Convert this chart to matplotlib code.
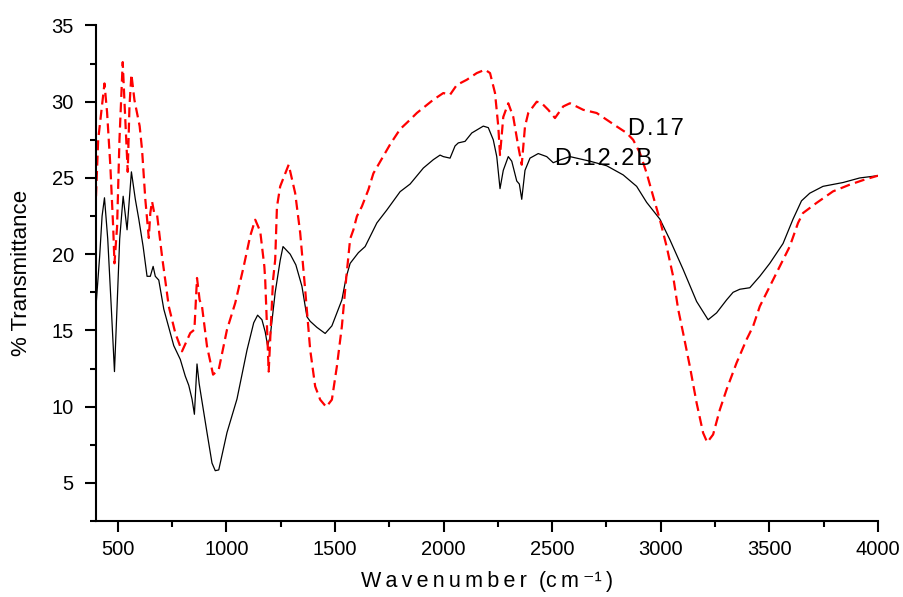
import matplotlib
matplotlib.use("Agg")
import matplotlib.pyplot as plt
from matplotlib.ticker import MultipleLocator

plt.rcParams['font.family'] = ['Liberation Sans', 'DejaVu Sans']

# D.12.2B (black, solid)
wn_b = [400, 417, 428, 439, 454, 470, 485, 497, 509, 525, 543, 563, 581, 597, 617,
        635, 650, 663, 673, 689, 712, 758, 788, 811, 827, 842, 853, 865, 875, 884,
        911, 934, 949, 965, 972, 1003, 1049, 1095, 1126, 1144, 1164, 1179, 1190,
        1202, 1225, 1248, 1261, 1294, 1320, 1348, 1371, 1386, 1417, 1455, 1486,
        1532, 1552, 1570, 1608, 1639, 1693, 1739, 1800, 1846, 1907, 1953, 1984,
        1999, 2030, 2053, 2068, 2099, 2130, 2183, 2206, 2229, 2245, 2260, 2275,
        2298, 2314, 2337, 2349, 2360, 2375, 2398, 2436, 2475, 2505, 2540, 2582,
        2674, 2751, 2827, 2889, 2935, 2996, 3042, 3103, 3165, 3218, 3257, 3303,
        3333, 3364, 3410, 3456, 3502, 3563, 3609, 3648, 3686, 3747, 3839, 3916,
        4000]
t_b = [16.6, 19.9, 22.5, 23.7, 21.0, 16.6, 12.3, 16.6, 21.0, 23.8, 21.6, 25.4, 23.6,
       22.3, 20.5, 18.55, 18.55, 19.2, 18.55, 18.3, 16.4, 14.0, 13.1, 12.0, 11.4,
       10.5, 9.5, 12.8, 11.5, 10.7, 8.3, 6.3, 5.8, 5.85, 6.3, 8.3, 10.5, 13.7, 15.5,
       16.0, 15.7, 14.9, 14.0, 14.6, 17.5, 19.6, 20.5, 20.0, 19.3, 17.9, 15.9, 15.6,
       15.2, 14.8, 15.3, 17.0, 18.5, 19.4, 20.1, 20.5, 22.05, 22.9, 24.1, 24.6, 25.65,
       26.2, 26.5, 26.4, 26.3, 27.1, 27.3, 27.4, 27.95, 28.4, 28.3, 27.5, 26.4, 24.3,
       25.5, 26.4, 26.1, 24.8, 24.6, 23.6, 25.5, 26.3, 26.6, 26.4, 26.0, 26.2, 26.4,
       26.1, 25.8, 25.2, 24.45, 23.4, 22.3, 20.95, 19.0, 16.9, 15.7, 16.15, 17.0,
       17.5, 17.7, 17.8, 18.55, 19.4, 20.7, 22.3, 23.5, 24.0, 24.45, 24.7, 25.0,
       25.15]

# D.17 (red, dashed)
wn_r = [400, 410, 439, 451, 466, 479, 485, 497, 508, 523, 532, 546, 554, 563, 577,
        601, 612, 627, 643, 650, 658, 668, 681, 704, 735, 765, 796, 834, 853, 865,
        877, 888, 911, 939, 965, 1003, 1041, 1080, 1110, 1133, 1156, 1175, 1179,
        1187, 1195, 1205, 1215, 1225, 1233, 1248, 1287, 1317, 1340, 1363, 1386,
        1409, 1432, 1460, 1486, 1509, 1532, 1552, 1570, 1585, 1601, 1624, 1654,
        1677, 1700, 1754, 1800, 1846, 1877, 1953, 1999, 2030, 2061, 2107, 2153,
        2191, 2214, 2237, 2252, 2260, 2275, 2298, 2321, 2344, 2360, 2375, 2390,
        2429, 2452, 2482, 2513, 2551, 2582, 2643, 2705, 2751, 2797, 2843, 2873,
        2904, 2935, 2965, 2996, 3027, 3057, 3080, 3103, 3134, 3165, 3195, 3214,
        3241, 3272, 3303, 3349, 3395, 3425, 3456, 3502, 3548, 3594, 3632, 3655,
        3717, 3793, 3870, 3940, 4000]
t_r = [23.8, 27.5, 31.2, 29.3, 25.8, 21.8, 19.4, 21.8, 27.5, 32.6, 29.7, 25.4, 29.7,
       31.8, 30.1, 28.4, 26.85, 23.6, 21.06, 22.7, 23.46, 22.7, 22.6, 19.86, 16.58,
       14.83, 13.63, 14.83, 15.05, 18.44, 17.0, 16.58, 13.96, 12.1, 12.43, 15.05, 16.8,
       19.2, 21.2, 22.26, 21.5, 19.2, 18.3, 15.3, 12.3, 15.3, 18.3, 19.64, 23.1,
       24.45, 25.87, 24.0, 21.4, 17.67, 13.74, 11.33, 10.46, 9.98, 10.46, 12.65,
       15.27, 18.44, 21.0, 21.6, 22.48, 23.13, 24.23, 25.3, 25.87, 27.2, 28.2, 28.82,
       29.26, 30.13, 30.57, 30.46, 31.1, 31.44, 31.88, 32.1, 31.88, 30.57, 28.38,
       26.5, 29.0, 29.9, 29.0, 27.07, 25.87, 28.38, 29.26, 30.0, 29.9, 29.47, 28.93,
       29.69, 29.9, 29.47, 29.26, 28.82, 28.38, 27.95, 27.5, 26.64, 25.32, 23.8,
       22.26, 20.51, 18.55, 16.4, 14.83, 12.64, 10.25, 8.28, 7.66, 8.17, 9.8, 11.12,
       12.87, 14.4, 15.27, 16.58, 17.89, 19.2, 20.51, 22.05, 22.7, 23.36, 24.12,
       24.56, 24.9, 25.15]

fig = plt.figure(figsize=(9.04, 5.97), dpi=100)
ax = fig.add_axes([0.1062, 0.1273, 0.865, 0.83])

ax.plot(wn_b, t_b, color='black', lw=0.9)
ax.plot(wn_r, t_r, color='red', lw=1.6, linestyle=(0, (4.5, 2.4)))

ax.set_xlim(400, 4000)
ax.set_ylim(2.5, 35)

ax.spines['top'].set_visible(False)
ax.spines['right'].set_visible(False)
ax.spines['left'].set_linewidth(1.5)
ax.spines['bottom'].set_linewidth(1.5)

ax.xaxis.set_major_locator(MultipleLocator(500))
ax.xaxis.set_minor_locator(MultipleLocator(250))
ax.yaxis.set_major_locator(MultipleLocator(5))
ax.yaxis.set_minor_locator(MultipleLocator(2.5))
ax.tick_params(which='major', direction='out', length=8, width=1.5, labelsize=14.5)
ax.tick_params(axis='y', which='major', pad=8)
ax.tick_params(axis='x', which='major', pad=6)
ax.tick_params(which='minor', direction='out', length=4.5, width=1.5)

ax.set_xlabel('W\u2009a\u2009v\u2009e\u2009n\u2009u\u2009m\u2009b\u2009e\u2009r  (c\u2009m\u2009\u207b\u00b9\u2009)',
              fontsize=15.5, labelpad=8)
ax.set_ylabel('% Transmittance', fontsize=16, labelpad=14)

ax.text(2849, 27.82, 'D\u200a.\u200a1\u200a7', fontsize=17, va='baseline')
ax.text(2513, 25.87, 'D\u200a.\u200a1\u200a2\u200a.\u200a2\u200aB', fontsize=17, va='baseline')

fig.savefig('out.png', dpi=100)
